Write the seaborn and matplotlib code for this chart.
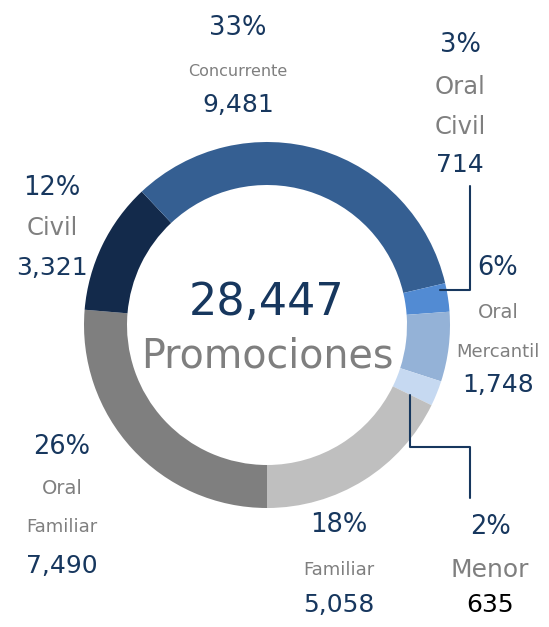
import matplotlib
matplotlib.use("Agg")
import matplotlib.pyplot as plt
import seaborn as sns

# data (clockwise from 6 o'clock)
categories = ["Oral\nFamiliar", "Civil", "Concurrente", "Oral\nCivil", "Oral\nMercantil", "Menor", "Familiar"]
values = [7490, 3321, 9481, 714, 1748, 635, 5058]
pct_labels = ["26%", "12%", "33%", "3%", "6%", "2%", "18%"]
value_labels = ["7,490", "3,321", "9,481", "714", "1,748", "635", "5,058"]
total_label = "28,447"
center_title = "Promociones"

colors = ["#7f7f7f", "#132a4b", "#355f92", "#528bd3", "#94b2d7", "#c6d9f1", "#bfbfbf"]
navy = "#17375e"
gray = "#7f7f7f"

sns.set_theme(style="white")
plt.rcParams["font.family"] = ["DejaVu Sans"]

W, H = 549, 627
fig = plt.figure(figsize=(W / 100, H / 100), dpi=100)
ax = fig.add_axes([0, 0, 1, 1])


def py(y):
    return H - y


ax.pie(values, colors=colors, startangle=270, counterclock=False,
       radius=183, center=(267, py(325)),
       wedgeprops=dict(width=43, linewidth=0), frame=True)
ax.set_xlim(0, W)
ax.set_ylim(0, H)
ax.set_aspect("equal")
ax.axis("off")

# label layout: x, y of pct, (y, fontsize) of name lines, y of value
layout = {
    "Concurrente": (238, 28, [(72, 11.5)], 105),
    "Oral\nCivil": (460, 45, [(87, 17.5), (127, 17.5)], 165),
    "Oral\nMercantil": (498, 268, [(312, 14), (352, 13)], 385),
    "Civil": (52, 188, [(228, 17.5)], 268),
    "Oral\nFamiliar": (62, 447, [(489, 14), (527, 13)], 566),
    "Familiar": (339, 525, [(570, 13)], 605),
    "Menor": (490, 527, [(570, 18)], 605),
}

for cat, pct, val in zip(categories, pct_labels, value_labels):
    x, ypct, names, yval = layout[cat]
    ax.text(x, py(ypct), pct, ha="center", va="center", fontsize=18.5, color=navy)
    for (yn, fs), line in zip(names, cat.split("\n")):
        ax.text(x, py(yn), line, ha="center", va="center", fontsize=fs, color=gray)
    vcolor = "black" if cat == "Menor" else navy
    ax.text(x, py(yval), val, ha="center", va="center", fontsize=18, color=vcolor)

# leader lines
ax.plot([440, 470, 470], [py(290), py(290), py(186)], color=navy, lw=1.5)
ax.plot([410, 410, 470, 470], [py(395), py(447), py(447), py(498)], color=navy, lw=1.5)

# center text
ax.text(267, py(302), total_label, ha="center", va="center", fontsize=32, color=navy)
ax.text(267, py(357), center_title, ha="center", va="center", fontsize=28.5, color=gray)

fig.savefig("out.png", dpi=100)
